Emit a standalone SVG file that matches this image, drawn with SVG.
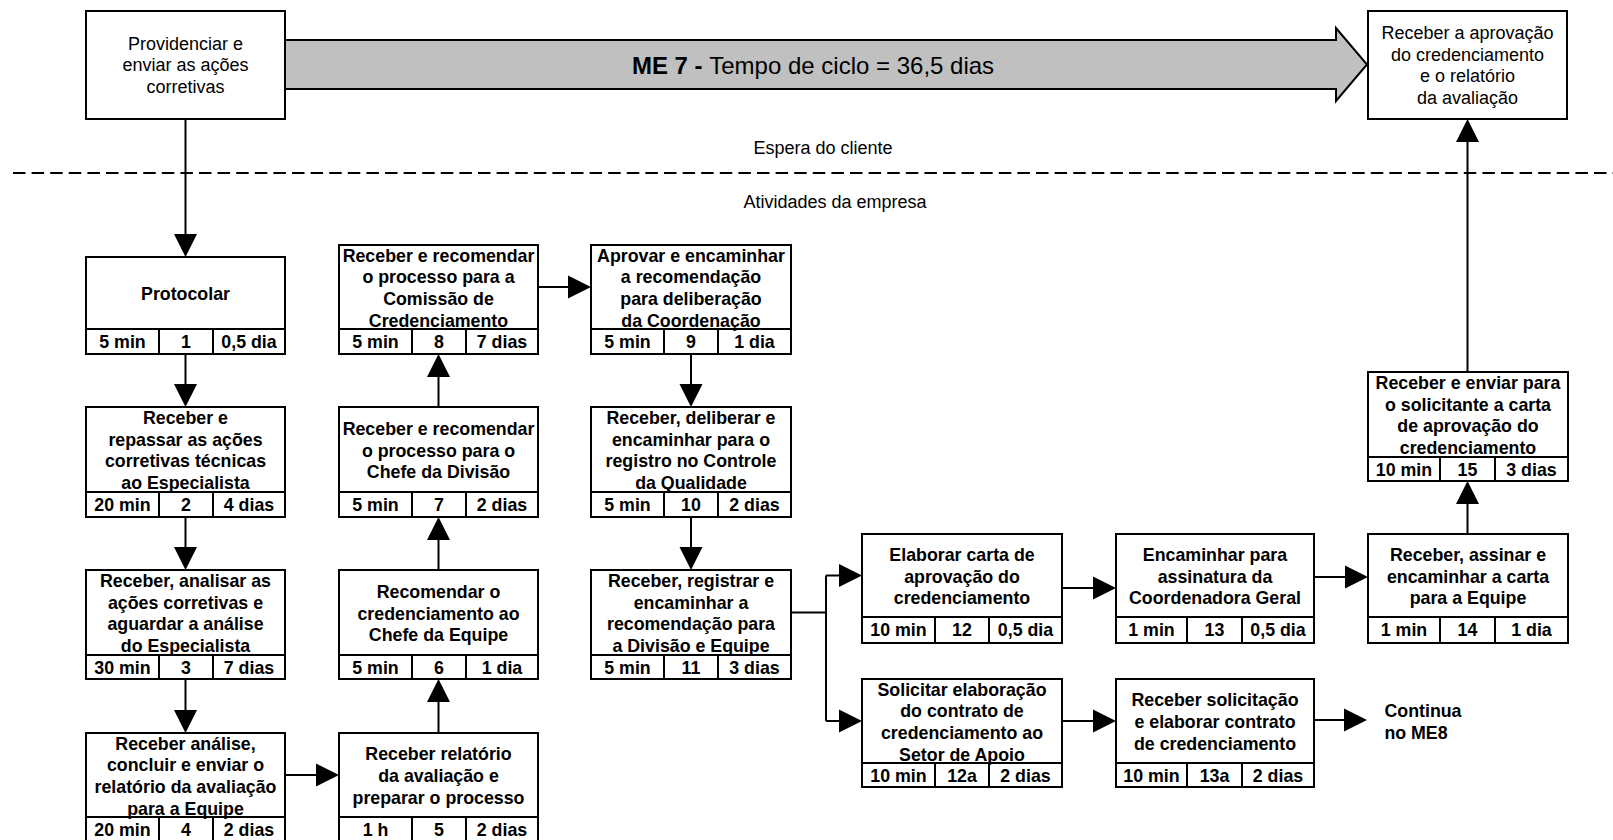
<svg xmlns="http://www.w3.org/2000/svg" width="1613" height="840" viewBox="0 0 1613 840">
  <style>
    .box { fill: #ffffff; stroke: #000000; stroke-width: 2; }
    .div { stroke: #000000; stroke-width: 2; }
    .conn { stroke: #000000; stroke-width: 2; fill: none; }
    .t { font-family: "Liberation Sans", Arial, sans-serif; font-size: 18px; text-anchor: middle; fill: #000000; }
    .b { font-family: "Liberation Sans", Arial, sans-serif; font-size: 17.8px; font-weight: bold; text-anchor: middle; fill: #000000; }
    .dash { stroke: #000000; stroke-width: 2; stroke-dasharray: 12.5 6.1; }
  </style>
  <defs>
    <marker id="head" markerUnits="userSpaceOnUse" viewBox="0 -12 24 24" refX="0" refY="0" markerWidth="24" markerHeight="24" orient="auto" overflow="visible">
      <path d="M0,-11.5 L23,0 L0,11.5 Z" fill="#000000"/>
    </marker>
  </defs>

  <rect width="1613" height="840" fill="#ffffff"/>

  <!-- boundary between customer wait and company activities -->
  <line class="dash" x1="13" y1="173" x2="1613" y2="173"/>
  <text class="t" x="823" y="154">Espera do cliente</text>
  <text class="t" x="835" y="208">Atividades da empresa</text>

  <!-- cycle time arrow -->
  <g id="cycle-arrow">
    <polygon points="285,40 1336,40 1336,28 1367,64.5 1336,101 1336,89 285,89" fill="#c0c0c0" stroke="#000000" stroke-width="2"/>
    <text class="t" x="813" y="74" style="font-size:24px"><tspan font-weight="bold">ME 7 - </tspan><tspan>Tempo de ciclo = 36,5 dias</tspan></text>
  </g>

  <!-- connectors -->
  <g id="connectors">
    <line class="conn" x1="185.5" y1="119" x2="185.5" y2="234" marker-end="url(#head)"/>
    <line class="conn" x1="185.5" y1="354" x2="185.5" y2="384" marker-end="url(#head)"/>
    <line class="conn" x1="185.5" y1="517" x2="185.5" y2="547" marker-end="url(#head)"/>
    <line class="conn" x1="185.5" y1="679" x2="185.5" y2="710" marker-end="url(#head)"/>
    <line class="conn" x1="285" y1="775" x2="316" y2="775" marker-end="url(#head)"/>
    <line class="conn" x1="438.5" y1="733" x2="438.5" y2="702" marker-end="url(#head)"/>
    <line class="conn" x1="438.5" y1="570" x2="438.5" y2="540" marker-end="url(#head)"/>
    <line class="conn" x1="438.5" y1="407" x2="438.5" y2="377" marker-end="url(#head)"/>
    <line class="conn" x1="538" y1="287" x2="568" y2="287" marker-end="url(#head)"/>
    <line class="conn" x1="691" y1="354" x2="691" y2="384" marker-end="url(#head)"/>
    <line class="conn" x1="691" y1="517" x2="691" y2="547" marker-end="url(#head)"/>
    <path class="conn" d="M791,612.5 H826 M826,575.5 V721"/>
    <line class="conn" x1="826" y1="575.5" x2="839" y2="575.5" marker-end="url(#head)"/>
    <line class="conn" x1="826" y1="721" x2="839" y2="721" marker-end="url(#head)"/>
    <line class="conn" x1="1062" y1="588" x2="1093" y2="588" marker-end="url(#head)"/>
    <line class="conn" x1="1062" y1="721" x2="1093" y2="721" marker-end="url(#head)"/>
    <line class="conn" x1="1314" y1="577" x2="1345" y2="577" marker-end="url(#head)"/>
    <line class="conn" x1="1314" y1="720" x2="1344" y2="720" marker-end="url(#head)"/>
    <line class="conn" x1="1467.5" y1="534" x2="1467.5" y2="504" marker-end="url(#head)"/>
    <line class="conn" x1="1467.5" y1="372" x2="1467.5" y2="142" marker-end="url(#head)"/>
  </g>

  <!-- customer boxes -->
  <g id="providenciar">
    <rect class="box" x="86" y="11" width="199" height="108"/>
    <text class="t" x="185.5" y="49.7">Providenciar e</text>
    <text class="t" x="185.5" y="71.4">enviar as ações</text>
    <text class="t" x="185.5" y="93.1">corretivas</text>
  </g>
  <g id="receber-aprovacao">
    <rect class="box" x="1368" y="11" width="199" height="108"/>
    <text class="t" x="1467.5" y="38.9">Receber a aprovação</text>
    <text class="t" x="1467.5" y="60.6">do credenciamento</text>
    <text class="t" x="1467.5" y="82.3">e o relatório</text>
    <text class="t" x="1467.5" y="104">da avaliação</text>
  </g>

  <!-- activity 1 -->
  <g id="step-1">
    <rect class="box" x="86" y="257" width="199" height="97"/>
    <line class="div" x1="86" y1="329" x2="285" y2="329"/>
    <line class="div" x1="159" y1="329" x2="159" y2="354"/>
    <line class="div" x1="213" y1="329" x2="213" y2="354"/>
    <text class="b" x="185.5" y="300">Protocolar</text>
    <text class="b" x="122.5" y="348">5 min</text>
    <text class="b" x="186" y="348">1</text>
    <text class="b" x="249" y="348">0,5 dia</text>
  </g>

  <!-- activity 2 -->
  <g id="step-2">
    <rect class="box" x="86" y="407" width="199" height="110"/>
    <line class="div" x1="86" y1="492" x2="285" y2="492"/>
    <line class="div" x1="159" y1="492" x2="159" y2="517"/>
    <line class="div" x1="213" y1="492" x2="213" y2="517"/>
    <text class="b" x="185.5" y="424">Receber e</text>
    <text class="b" x="185.5" y="445.6">repassar as ações</text>
    <text class="b" x="185.5" y="467.3">corretivas técnicas</text>
    <text class="b" x="185.5" y="489">ao Especialista</text>
    <text class="b" x="122.5" y="511">20 min</text>
    <text class="b" x="186" y="511">2</text>
    <text class="b" x="249" y="511">4 dias</text>
  </g>

  <!-- activity 3 -->
  <g id="step-3">
    <rect class="box" x="86" y="570" width="199" height="109"/>
    <line class="div" x1="86" y1="655" x2="285" y2="655"/>
    <line class="div" x1="159" y1="655" x2="159" y2="679"/>
    <line class="div" x1="213" y1="655" x2="213" y2="679"/>
    <text class="b" x="185.5" y="587">Receber, analisar as</text>
    <text class="b" x="185.5" y="608.6">ações corretivas e</text>
    <text class="b" x="185.5" y="630.4">aguardar a análise</text>
    <text class="b" x="185.5" y="652">do Especialista</text>
    <text class="b" x="122.5" y="674">30 min</text>
    <text class="b" x="186" y="674">3</text>
    <text class="b" x="249" y="674">7 dias</text>
  </g>

  <!-- activity 4 -->
  <g id="step-4">
    <rect class="box" x="86" y="733" width="199" height="109"/>
    <line class="div" x1="86" y1="817" x2="285" y2="817"/>
    <line class="div" x1="159" y1="817" x2="159" y2="842"/>
    <line class="div" x1="213" y1="817" x2="213" y2="842"/>
    <text class="b" x="185.5" y="749.5">Receber análise,</text>
    <text class="b" x="185.5" y="771.2">concluir e enviar o</text>
    <text class="b" x="185.5" y="792.9">relatório da avaliação</text>
    <text class="b" x="185.5" y="814.6">para a Equipe</text>
    <text class="b" x="122.5" y="836">20 min</text>
    <text class="b" x="186" y="836">4</text>
    <text class="b" x="249" y="836">2 dias</text>
  </g>

  <!-- activity 5 -->
  <g id="step-5">
    <rect class="box" x="339" y="733" width="199" height="109"/>
    <line class="div" x1="339" y1="817" x2="538" y2="817"/>
    <line class="div" x1="412" y1="817" x2="412" y2="842"/>
    <line class="div" x1="466" y1="817" x2="466" y2="842"/>
    <text class="b" x="438.5" y="760.3">Receber relatório</text>
    <text class="b" x="438.5" y="782">da avaliação e</text>
    <text class="b" x="438.5" y="803.7">preparar o processo</text>
    <text class="b" x="375.5" y="836">1 h</text>
    <text class="b" x="439" y="836">5</text>
    <text class="b" x="502" y="836">2 dias</text>
  </g>

  <!-- activity 6 -->
  <g id="step-6">
    <rect class="box" x="339" y="570" width="199" height="109"/>
    <line class="div" x1="339" y1="655" x2="538" y2="655"/>
    <line class="div" x1="412" y1="655" x2="412" y2="679"/>
    <line class="div" x1="466" y1="655" x2="466" y2="679"/>
    <text class="b" x="438.5" y="597.8">Recomendar o</text>
    <text class="b" x="438.5" y="619.5">credenciamento ao</text>
    <text class="b" x="438.5" y="641.2">Chefe da Equipe</text>
    <text class="b" x="375.5" y="674">5 min</text>
    <text class="b" x="439" y="674">6</text>
    <text class="b" x="502" y="674">1 dia</text>
  </g>

  <!-- activity 7 -->
  <g id="step-7">
    <rect class="box" x="339" y="407" width="199" height="110"/>
    <line class="div" x1="339" y1="492" x2="538" y2="492"/>
    <line class="div" x1="412" y1="492" x2="412" y2="517"/>
    <line class="div" x1="466" y1="492" x2="466" y2="517"/>
    <text class="b" x="438.5" y="434.8">Receber e recomendar</text>
    <text class="b" x="438.5" y="456.5">o processo para o</text>
    <text class="b" x="438.5" y="478.2">Chefe da Divisão</text>
    <text class="b" x="375.5" y="511">5 min</text>
    <text class="b" x="439" y="511">7</text>
    <text class="b" x="502" y="511">2 dias</text>
  </g>

  <!-- activity 8 -->
  <g id="step-8">
    <rect class="box" x="339" y="245" width="199" height="109"/>
    <line class="div" x1="339" y1="329" x2="538" y2="329"/>
    <line class="div" x1="412" y1="329" x2="412" y2="354"/>
    <line class="div" x1="466" y1="329" x2="466" y2="354"/>
    <text class="b" x="438.5" y="261.5">Receber e recomendar</text>
    <text class="b" x="438.5" y="283.2">o processo para a</text>
    <text class="b" x="438.5" y="304.9">Comissão de</text>
    <text class="b" x="438.5" y="326.6">Credenciamento</text>
    <text class="b" x="375.5" y="348">5 min</text>
    <text class="b" x="439" y="348">8</text>
    <text class="b" x="502" y="348">7 dias</text>
  </g>

  <!-- activity 9 -->
  <g id="step-9">
    <rect class="box" x="591" y="245" width="200" height="109"/>
    <line class="div" x1="591" y1="329" x2="791" y2="329"/>
    <line class="div" x1="664" y1="329" x2="664" y2="354"/>
    <line class="div" x1="718" y1="329" x2="718" y2="354"/>
    <text class="b" x="691" y="261.5">Aprovar e encaminhar</text>
    <text class="b" x="691" y="283.2">a recomendação</text>
    <text class="b" x="691" y="304.9">para deliberação</text>
    <text class="b" x="691" y="326.6">da Coordenação</text>
    <text class="b" x="627.5" y="348">5 min</text>
    <text class="b" x="691" y="348">9</text>
    <text class="b" x="754.5" y="348">1 dia</text>
  </g>

  <!-- activity 10 -->
  <g id="step-10">
    <rect class="box" x="591" y="407" width="200" height="110"/>
    <line class="div" x1="591" y1="492" x2="791" y2="492"/>
    <line class="div" x1="664" y1="492" x2="664" y2="517"/>
    <line class="div" x1="718" y1="492" x2="718" y2="517"/>
    <text class="b" x="691" y="424">Receber, deliberar e</text>
    <text class="b" x="691" y="445.6">encaminhar para o</text>
    <text class="b" x="691" y="467.3">registro no Controle</text>
    <text class="b" x="691" y="489">da Qualidade</text>
    <text class="b" x="627.5" y="511">5 min</text>
    <text class="b" x="691" y="511">10</text>
    <text class="b" x="754.5" y="511">2 dias</text>
  </g>

  <!-- activity 11 -->
  <g id="step-11">
    <rect class="box" x="591" y="570" width="200" height="109"/>
    <line class="div" x1="591" y1="655" x2="791" y2="655"/>
    <line class="div" x1="664" y1="655" x2="664" y2="679"/>
    <line class="div" x1="718" y1="655" x2="718" y2="679"/>
    <text class="b" x="691" y="587">Receber, registrar e</text>
    <text class="b" x="691" y="608.6">encaminhar a</text>
    <text class="b" x="691" y="630.4">recomendação para</text>
    <text class="b" x="691" y="652">a Divisão e Equipe</text>
    <text class="b" x="627.5" y="674">5 min</text>
    <text class="b" x="691" y="674">11</text>
    <text class="b" x="754.5" y="674">3 dias</text>
  </g>

  <!-- activity 12 -->
  <g id="step-12">
    <rect class="box" x="862" y="534" width="200" height="109"/>
    <line class="div" x1="862" y1="617" x2="1062" y2="617"/>
    <line class="div" x1="935" y1="617" x2="935" y2="643"/>
    <line class="div" x1="989" y1="617" x2="989" y2="643"/>
    <text class="b" x="962" y="560.8">Elaborar carta de</text>
    <text class="b" x="962" y="582.5">aprovação do</text>
    <text class="b" x="962" y="604.2">credenciamento</text>
    <text class="b" x="898.5" y="636">10 min</text>
    <text class="b" x="962" y="636">12</text>
    <text class="b" x="1025.5" y="636">0,5 dia</text>
  </g>

  <!-- activity 12a -->
  <g id="step-12a">
    <rect class="box" x="862" y="679" width="200" height="108"/>
    <line class="div" x1="862" y1="763" x2="1062" y2="763"/>
    <line class="div" x1="935" y1="763" x2="935" y2="787"/>
    <line class="div" x1="989" y1="763" x2="989" y2="787"/>
    <text class="b" x="962" y="695.5">Solicitar elaboração</text>
    <text class="b" x="962" y="717.2">do contrato de</text>
    <text class="b" x="962" y="738.9">credenciamento ao</text>
    <text class="b" x="962" y="760.6">Setor de Apoio</text>
    <text class="b" x="898.5" y="782">10 min</text>
    <text class="b" x="962" y="782">12a</text>
    <text class="b" x="1025.5" y="782">2 dias</text>
  </g>

  <!-- activity 13 -->
  <g id="step-13">
    <rect class="box" x="1116" y="534" width="198" height="109"/>
    <line class="div" x1="1116" y1="617" x2="1314" y2="617"/>
    <line class="div" x1="1187" y1="617" x2="1187" y2="643"/>
    <line class="div" x1="1242" y1="617" x2="1242" y2="643"/>
    <text class="b" x="1215" y="560.8">Encaminhar para</text>
    <text class="b" x="1215" y="582.5">assinatura da</text>
    <text class="b" x="1215" y="604.2">Coordenadora Geral</text>
    <text class="b" x="1151.5" y="636">1 min</text>
    <text class="b" x="1214.5" y="636">13</text>
    <text class="b" x="1278" y="636">0,5 dia</text>
  </g>

  <!-- activity 13a -->
  <g id="step-13a">
    <rect class="box" x="1116" y="679" width="198" height="108"/>
    <line class="div" x1="1116" y1="763" x2="1314" y2="763"/>
    <line class="div" x1="1187" y1="763" x2="1187" y2="787"/>
    <line class="div" x1="1242" y1="763" x2="1242" y2="787"/>
    <text class="b" x="1215" y="706.3">Receber solicitação</text>
    <text class="b" x="1215" y="728">e elaborar contrato</text>
    <text class="b" x="1215" y="749.7">de credenciamento</text>
    <text class="b" x="1151.5" y="782">10 min</text>
    <text class="b" x="1214.5" y="782">13a</text>
    <text class="b" x="1278" y="782">2 dias</text>
  </g>

  <!-- activity 14 -->
  <g id="step-14">
    <rect class="box" x="1368" y="534" width="200" height="109"/>
    <line class="div" x1="1368" y1="617" x2="1568" y2="617"/>
    <line class="div" x1="1440" y1="617" x2="1440" y2="643"/>
    <line class="div" x1="1495" y1="617" x2="1495" y2="643"/>
    <text class="b" x="1468" y="560.8">Receber, assinar e</text>
    <text class="b" x="1468" y="582.5">encaminhar a carta</text>
    <text class="b" x="1468" y="604.2">para a Equipe</text>
    <text class="b" x="1404" y="636">1 min</text>
    <text class="b" x="1467.5" y="636">14</text>
    <text class="b" x="1531.5" y="636">1 dia</text>
  </g>

  <!-- activity 15 -->
  <g id="step-15">
    <rect class="box" x="1368" y="372" width="200" height="109"/>
    <line class="div" x1="1368" y1="457" x2="1568" y2="457"/>
    <line class="div" x1="1440" y1="457" x2="1440" y2="481"/>
    <line class="div" x1="1495" y1="457" x2="1495" y2="481"/>
    <text class="b" x="1468" y="389">Receber e enviar para</text>
    <text class="b" x="1468" y="410.7">o solicitante a carta</text>
    <text class="b" x="1468" y="432.4">de aprovação do</text>
    <text class="b" x="1468" y="454">credenciamento</text>
    <text class="b" x="1404" y="476">10 min</text>
    <text class="b" x="1467.5" y="476">15</text>
    <text class="b" x="1531.5" y="476">3 dias</text>
  </g>

  <!-- continuation note -->
  <g id="continua">
    <text class="b" x="1423" y="717">Continua</text>
    <text class="b" x="1416" y="739">no ME8</text>
  </g>
</svg>
